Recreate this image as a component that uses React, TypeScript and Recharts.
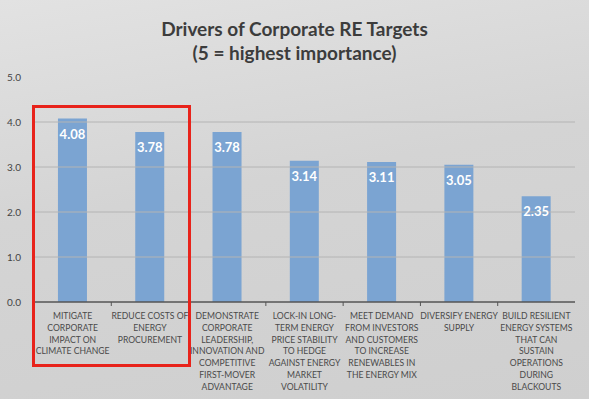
import { BarChart, Bar, XAxis, YAxis, ReferenceLine, LabelList } from 'recharts'

const categories = [
  'MITIGATE\nCORPORATE\nIMPACT ON\nCLIMATE CHANGE',
  'REDUCE COSTS OF\nENERGY\nPROCUREMENT',
  'DEMONSTRATE\nCORPORATE\nLEADERSHIP,\nINNOVATION AND\nCOMPETITIVE\nFIRST-MOVER\nADVANTAGE',
  'LOCK-IN LONG-\nTERM ENERGY\nPRICE STABILITY\nTO HEDGE\nAGAINST ENERGY\nMARKET\nVOLATILITY',
  'MEET DEMAND\nFROM INVESTORS\nAND CUSTOMERS\nTO INCREASE\nRENEWABLES IN\nTHE ENERGY MIX',
  'DIVERSIFY ENERGY\nSUPPLY',
  'BUILD RESILIENT\nENERGY SYSTEMS\nTHAT CAN\nSUSTAIN\nOPERATIONS\nDURING\nBLACKOUTS',
]
const scores = [4.08, 3.78, 3.78, 3.14, 3.11, 3.05, 2.35]
const yTicks = [0, 1, 2, 3, 4, 5]
const gridValues = [1, 2, 3, 4]

const W = 589
const H = 399
const M = { top: 77, right: 14, left: 0, bottom: 0 }
const Y_AXIS_W = 34
const X_AXIS_H = 97
const band = (W - M.left - M.right - Y_AXIS_W) / categories.length

const data = categories.map((c, i) => ({ name: c, score: scores[i] }))

const font = 'Lato, "Open Sans", sans-serif'

function CategoryTick(props: any) {
  const { x, y, payload } = props
  const lines = String(payload.value).split('\n')
  return (
    <g>
      <line x1={x - band / 2} x2={x - band / 2} y1={y - 8} y2={y - 4} stroke="#555" strokeWidth={1} />
      <text x={x} y={y + 9} textAnchor="middle" fontSize={8.6} fill="#4a4a4a" fontFamily={font}>
        {lines.map((l, i) => (
          <tspan key={i} x={x} dy={i === 0 ? 0 : 11.8}>{l}</tspan>
        ))}
      </text>
    </g>
  )
}

export default function App() {
  return (
    <div
      style={{
        position: 'fixed', left: 0, top: 0, width: W, height: H,
        background: 'linear-gradient(170deg, #e2e2e2 0%, #d4d4d4 45%, #cfcfcf 100%)',
        fontFamily: font,
      }}
    >
      <div style={{ position: 'absolute', top: 17, left: 0, width: W, textAlign: 'center', color: '#3c3c3c', fontWeight: 700, fontSize: 19, lineHeight: '24px' }}>
        Drivers of Corporate RE Targets<br />(5 = highest importance)
      </div>
      <BarChart width={W} height={H} data={data} margin={M} barCategoryGap="31%" style={{ position: 'absolute', left: 0, top: 0 }}>
        {gridValues.map((v) => (
          <ReferenceLine key={v} y={v} stroke="#b4b4b4" strokeWidth={1} />
        ))}
        <XAxis
          dataKey="name"
          interval={0}
          height={X_AXIS_H}
          tickLine={false}
          axisLine={{ stroke: '#555', strokeWidth: 1.5 }}
          tick={<CategoryTick />}
        />
        <YAxis
          width={Y_AXIS_W}
          domain={[0, 5]}
          ticks={yTicks}
          axisLine={false}
          tickLine={false}
          tickFormatter={(v: number) => v.toFixed(1)}
          tick={{ fontSize: 10, fill: '#444', fontFamily: font, textAnchor: 'start', dx: -19 }}
        />
        <Bar dataKey="score" fill="#7ba4d2" isAnimationActive={false}>
          <LabelList
            dataKey="score"
            position="insideTop"
            offset={11}
            formatter={(v: any) => Number(v).toFixed(2)}
            style={{ fill: '#fff', fontWeight: 700, fontSize: 13, fontFamily: font }}
          />
        </Bar>
      </BarChart>
      <div style={{ position: 'absolute', left: 32, top: 105, width: 153, height: 256, border: '3px solid #e8231b' }} />
    </div>
  )
}
